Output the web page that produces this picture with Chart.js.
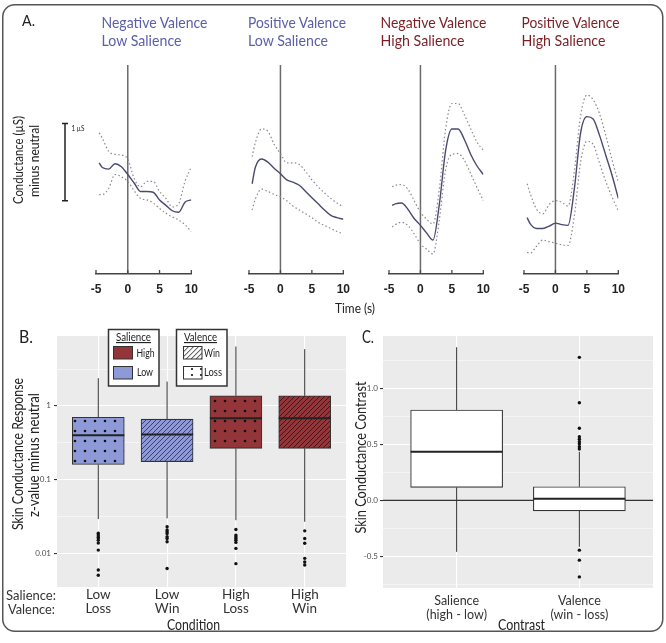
<!DOCTYPE html>
<html><head><meta charset="utf-8">
<script src="https://cdn.jsdelivr.net/npm/chart.js@4.4.1/dist/chart.umd.min.js"></script>
<style>
html,body{margin:0;padding:0;background:#fff;}
body{width:666px;height:643px;position:relative;overflow:hidden;font-family:Lato,"Open Sans",sans-serif;color:#222;}
canvas{position:absolute;}
#ov{position:absolute;left:0;top:0;pointer-events:none;}
#ov text{font-family:Lato,"Open Sans",sans-serif;}
</style></head><body>
<div id="root"></div>
<script>
// ---------------- Panel A data (µS relative) ----------------
const timePoints = [-4.5,-4,-3,-2,-1,0,1,2,3,4,5,6,7,8,9,10];
const xTicksA = [-5,0,5,10];
const panelTitles = [["Negative Valence","Low Salience"],["Positive Valence","Low Salience"],["Negative Valence","High Salience"],["Positive Valence","High Salience"]];
const negLowMean  = [1.44,1.38,1.36,1.43,1.39,1.29,1.18,1.07,1.07,1.06,0.96,0.89,0.82,0.80,0.93,0.96];
const negLowUpper = [1.83,1.76,1.59,1.55,1.54,1.49,1.24,1.13,1.20,1.20,1.07,0.98,0.87,0.91,1.20,1.39];
const negLowLower = [1.03,1.03,1.11,1.29,1.26,1.20,1.08,0.98,0.96,0.92,0.85,0.79,0.74,0.70,0.64,0.55];
const posLowMean  = [1.17,1.38,1.49,1.45,1.37,1.30,1.22,1.19,1.15,1.07,0.99,0.91,0.83,0.76,0.73,0.71];
const posLowUpper = [1.52,1.70,1.88,1.85,1.68,1.56,1.44,1.44,1.42,1.33,1.22,1.13,1.05,0.98,0.92,0.87];
const posLowLower = [0.83,0.97,1.10,1.07,1.03,1.00,0.95,0.88,0.83,0.78,0.73,0.67,0.63,0.59,0.55,0.52];
const negHighMean  = [0.89,0.91,0.92,0.84,0.72,0.63,0.53,0.44,0.90,1.60,1.88,1.88,1.74,1.55,1.40,1.29];
const negHighUpper = [1.13,1.15,1.16,1.10,0.95,0.80,0.71,0.65,1.10,1.88,2.21,2.21,2.06,1.88,1.71,1.60];
const negHighLower = [0.61,0.64,0.67,0.63,0.52,0.39,0.32,0.26,0.70,1.35,1.55,1.56,1.47,1.30,1.12,0.95];
const posHighMean  = [0.73,0.65,0.59,0.59,0.62,0.66,0.64,0.63,1.10,1.83,2.04,2.01,1.80,1.54,1.28,0.98];
const posHighUpper = [1.17,1.04,0.84,0.78,0.90,0.95,0.93,0.88,1.33,2.05,2.32,2.26,2.08,1.80,1.48,1.19];
const posHighLower = [0.28,0.27,0.36,0.44,0.42,0.40,0.38,0.37,0.75,1.45,1.72,1.68,1.44,1.20,1.00,0.82];
const zeroLineTop = 2.71;       // height of the stimulus-onset line
const scaleBarStart = 0.95;     // 1 µS reference bar
const scaleBarLength = 1;

// ---------------- Panel B data ----------------
const salienceLevels = ["Low","Low","High","High"];
const valenceLevels  = ["Loss","Win","Loss","Win"];
const bQ1  = [0.16,0.175,0.265,0.265];
const bMed = [0.40,0.41,0.68,0.68];
const bQ3  = [0.70,0.66,1.37,1.37];
const bLo  = [0.029,0.0297,0.028,0.0267];
const bHi  = [2.38,2.14,6.4,5.9];
const bOutliers = [
  [0.0187,0.0176,0.0166,0.0161,0.015,0.0137,0.011,0.0059,0.005],
  [0.0228,0.0206,0.0195,0.0185,0.0167,0.0158,0.0143,0.0062],
  [0.021,0.0176,0.0167,0.0158,0.015,0.014,0.0116,0.0072],
  [0.0201,0.0158,0.0136,0.0085,0.0076,0.0069]
];
const bYTicks = [0.01,0.1,1];
const bYTickLabels = ["0.01","0.1","1"];
const bYMinor = [0.0316,0.316,3.16];

// ---------------- Panel C data ----------------
const contrastNames = ["Salience","Valence"];
const contrastSubs  = ["(high - low)","(win - loss)"];
const cQ1  = [0.116,-0.093];
const cMed = [0.433,0.014];
const cQ3  = [0.805,0.121];
const cLo  = [-0.458,-0.413];
const cHi  = [1.364,0.433];
const cOutliers = [[],[1.274,0.87,0.642,0.567,0.544,0.522,0.502,0.478,0.457,-0.443,-0.532,-0.681]];
const cYTicks = [-0.5,0,0.5,1.0];
const cYTickLabels = ["-0.5","0.0","0.5","1.0"];
const cYMinor = [-0.75,-0.25,0.25,0.75,1.25];
const cRefLine = [0];

// ---------------- helpers ----------------
const root = document.getElementById('root');
function mkCanvas(l,t,w,h){const c=document.createElement('canvas');c.width=w;c.height=h;c.style.left=l+'px';c.style.top=t+'px';c.style.width=w+'px';c.style.height=h+'px';root.appendChild(c);return c;}
const near=(a,b)=>Math.abs(a-b)<=Math.abs(b)*1e-6+1e-9;
const esc=s=>s.replace(/&/g,'&amp;').replace(/</g,'&lt;');
const svg=[];
// text with its width fixed to the width measured on the reference
function T(str,x,y,size,o){o=o||{};
  let a=`x="${x}" y="${y}" font-size="${size}" fill="${o.color||'#222'}" text-anchor="${o.anchor||'start'}"`;
  if(o.w) a+=` textLength="${o.w}" lengthAdjust="spacingAndGlyphs"`;
  if(o.rot) a+=` transform="rotate(-90 ${x} ${y})"`;
  if(o.deco) a+=` text-decoration="underline"`;
  svg.push(`<text ${a}>${esc(str)}</text>`);}

Chart.defaults.animation=false;
Chart.defaults.events=[];
Chart.defaults.plugins.legend.display=false;
Chart.defaults.plugins.tooltip.enabled=false;

function build(){
// ---------------- Panel A ----------------
const seriesA = [[negLowMean,negLowUpper,negLowLower],[posLowMean,posLowUpper,posLowLower],[negHighMean,negHighUpper,negHighLower],[posHighMean,posHighUpper,posHighLower]];
const chartLeftA = [96,249,389,524];
const chartWidthA = [96,95,95,95];
const titleLeftA = [101.5,248,380.5,521.5];
const lowColor='#5a5fa8', highColor='#7b1f24';
const tickUp = {id:'tickUp', afterDraw(chart){const {ctx,scales:{x},chartArea:a}=chart;ctx.save();ctx.strokeStyle='#444';ctx.lineWidth=1.3;
  xTicksA.forEach(v=>{const px=x.getPixelForValue(v);ctx.beginPath();ctx.moveTo(px,a.bottom);ctx.lineTo(px,a.bottom-4);ctx.stroke();});ctx.restore();}};
const scaleBar = {id:'scaleBar', afterDraw(chart){const {ctx,scales:{y},chartArea:a}=chart;const px=a.left-31;
  const y0=y.getPixelForValue(scaleBarStart), y1=y.getPixelForValue(scaleBarStart+scaleBarLength);
  ctx.save();ctx.strokeStyle='#222';ctx.lineWidth=1.5;ctx.beginPath();ctx.moveTo(px,y0);ctx.lineTo(px,y1);
  ctx.moveTo(px-3,y0);ctx.lineTo(px+3,y0);ctx.moveTo(px-3,y1);ctx.lineTo(px+3,y1);ctx.stroke();ctx.restore();}};

seriesA.forEach((s,i)=>{
  const padL = i===0?40:14, padR=14;
  const c = mkCanvas(chartLeftA[i]-padL,46,chartWidthA[i]+padL+padR,256);
  const pts = arr=>timePoints.map((t,k)=>({x:t,y:arr[k]}));
  const dot = {borderColor:'#8f8790',borderWidth:1.2,borderDash:[1.5,2.4],pointRadius:0,cubicInterpolationMode:'monotone',fill:false};
  new Chart(c,{type:'line',
    data:{datasets:[
      Object.assign({data:pts(s[1])},dot),
      Object.assign({data:pts(s[2])},dot),
      {data:pts(s[0]),borderColor:'#4a4a70',borderWidth:1.4,pointRadius:0,cubicInterpolationMode:'monotone',fill:false},
      {data:[{x:0,y:0},{x:0,y:zeroLineTop}],borderColor:'#6a6a6a',borderWidth:1.5,pointRadius:0,tension:0}
    ]},
    options:{responsive:false,maintainAspectRatio:false,
      layout:{padding:{left:padL,right:padR,top:12,bottom:0}},
      scales:{
        x:{type:'linear',min:-5,max:10,afterBuildTicks:sc=>{sc.ticks=xTicksA.map(v=>({value:v}));},
           grid:{display:false,drawTicks:false},border:{display:true,color:'#444',width:1.5},
           ticks:{autoSkip:false,maxRotation:0,padding:8,color:'#222',font:{family:'Arial',weight:'bold',size:12},callback:v=>String(v)},
           afterFit:sc=>{sc.height=28;}},
        y:{type:'linear',display:false,min:0,max:2.8}
      }},
    plugins: i===0?[tickUp,scaleBar]:[tickUp]
  });
  const col = i<2?lowColor:highColor;
  const w1 = panelTitles[i][0].startsWith('Neg')?106:98, w2 = panelTitles[i][1].startsWith('Low')?80:84;
  T(panelTitles[i][0],titleLeftA[i],28,15,{color:col,w:w1});
  T(panelTitles[i][1],titleLeftA[i],46,15,{color:col,w:w2});
});
T('A.',22,25.5,15,{w:13});
T('1 µS',71.5,130.5,8,{w:13});
T('Conductance (µS)',23,160,14,{rot:true,anchor:'middle',w:88});
T('minus neutral',38.5,161,14,{rot:true,anchor:'middle',w:72});
T('Time (s)',335,313,14,{w:40});

// ---------------- patterns ----------------
function dotPattern(fill){const p=document.createElement('canvas');p.width=10;p.height=10;const g=p.getContext('2d');
  g.fillStyle=fill;g.fillRect(0,0,10,10);g.fillStyle='#111';g.beginPath();g.arc(5,5,1.3,0,Math.PI*2);g.fill();
  return g.createPattern(p,'repeat');}
function hatchPattern(fill,line){const n=5;const p=document.createElement('canvas');p.width=n;p.height=n;const g=p.getContext('2d');
  g.fillStyle=fill;g.fillRect(0,0,n,n);g.strokeStyle=line;g.lineWidth=1;g.beginPath();
  g.moveTo(0,n);g.lineTo(n,0);g.moveTo(-1,1);g.lineTo(1,-1);g.moveTo(n-1,n+1);g.lineTo(n+1,n-1);g.stroke();
  return g.createPattern(p,'repeat');}
const blueFill='#8e9ad8', redFill='#943539';
const bFills=[dotPattern(blueFill),hatchPattern(blueFill,'rgba(30,35,80,0.75)'),dotPattern(redFill),hatchPattern(redFill,'rgba(40,5,5,0.7)')];

const panelBg = {id:'panelBg', beforeDraw(chart){const {ctx,chartArea:a}=chart;ctx.save();ctx.fillStyle='#ebebeb';ctx.fillRect(a.left,a.top,a.right-a.left,a.bottom-a.top);ctx.restore();}};
function boxPlugin(q1,q3,lo,hi,med,halfW,refLines){
  return {id:'boxExtras',
    beforeDatasetsDraw(chart){const {ctx,scales:{x,y},chartArea:a}=chart;ctx.save();
      if(refLines){ctx.strokeStyle='#333';ctx.lineWidth=1.2;refLines.forEach(v=>{const py=y.getPixelForValue(v);ctx.beginPath();ctx.moveTo(a.left,py);ctx.lineTo(a.right,py);ctx.stroke();});}
      ctx.strokeStyle='#333';ctx.lineWidth=1;
      q1.forEach((_,i)=>{const px=x.getPixelForValue(i+1);ctx.beginPath();
        ctx.moveTo(px,y.getPixelForValue(hi[i]));ctx.lineTo(px,y.getPixelForValue(q3[i]));
        ctx.moveTo(px,y.getPixelForValue(q1[i]));ctx.lineTo(px,y.getPixelForValue(lo[i]));ctx.stroke();});
      ctx.restore();},
    afterDatasetsDraw(chart){const {ctx,scales:{x,y}}=chart;ctx.save();ctx.strokeStyle='#222';ctx.lineWidth=2;
      med.forEach((m,i)=>{const px=x.getPixelForValue(i+1),py=y.getPixelForValue(m);ctx.beginPath();ctx.moveTo(px-halfW,py);ctx.lineTo(px+halfW,py);ctx.stroke();});
      ctx.restore();}
  };
}

// ---------------- Panel B ----------------
(function(){
  const c=mkCanvas(0,326,352,300);
  const outPts=[];bOutliers.forEach((arr,i)=>arr.forEach(v=>outPts.push({x:i+1,y:v})));
  const allTicks=[...bYTicks,...bYMinor].sort((a,b)=>a-b);
  const isMajor=v=>bYTicks.some(m=>near(v,m));
  new Chart(c,{type:'bar',
    data:{datasets:[
      {type:'line',data:outPts,showLine:false,pointRadius:1.7,pointBackgroundColor:'#111',pointBorderWidth:0,order:0},
      {type:'bar',data:salienceLevels.map((s,i)=>({x:i+1,y:[bQ1[i],bQ3[i]]})),backgroundColor:bFills,borderColor:'#333',borderWidth:1.1,borderSkipped:false,barThickness:52,order:1}
    ]},
    options:{responsive:false,maintainAspectRatio:false,
      layout:{padding:{left:0,right:6,top:10,bottom:0}},
      scales:{
        x:{type:'linear',offset:false,min:0.4,max:4.6,afterBuildTicks:sc=>{sc.ticks=salienceLevels.map((s,i)=>({value:i+1}));},
           grid:{offset:false,color:'#fff',lineWidth:1.1,drawTicks:false},border:{display:false},
           ticks:{autoSkip:false,maxRotation:0,padding:1,color:'#333',font:{family:'Lato',size:13.5,lineHeight:1.04},callback:v=>[salienceLevels[v-1],valenceLevels[v-1]]},
           afterFit:sc=>{sc.height=39;}},
        y:{type:'logarithmic',min:0.00347,max:8.9,afterBuildTicks:sc=>{sc.ticks=allTicks.map(v=>({value:v}));},
           grid:{color:'#fff',lineWidth:ctx=>isMajor(ctx.tick.value)?1.1:0.5,tickLength:3,tickColor:ctx=>isMajor(ctx.tick.value)?'#333':'rgba(0,0,0,0)'},
           border:{display:false},
           ticks:{autoSkip:false,padding:3,color:'#4d4d4d',font:{family:'Lato',size:8},callback:v=>{const k=bYTicks.findIndex(m=>near(v,m));return k>=0?bYTickLabels[k]:'';}},
           afterFit:sc=>{sc.width=57;}}
      }},
    plugins:[panelBg,boxPlugin(bQ1,bQ3,bLo,bHi,bMed,26,null)]
  });
})();
T('B.',19,343,17.5,{w:14});
T('Skin Conductance Response',23,454,15,{rot:true,anchor:'middle',w:152});
T('z-value minus neutral',39,455,15,{rot:true,anchor:'middle',w:124});
T('Salience:',6,600,13.5,{color:'#333',w:50});
T('Valence:',8,613.5,13.5,{color:'#333',w:47});
T('Condition',167,630,14.5,{w:53});

// legends (drawn on the overlay)
svg.push(`<rect x="108.5" y="329.5" width="50.5" height="56.5" fill="#fff" stroke="#333" stroke-width="1.5"/>`);
svg.push(`<rect x="176.5" y="329.5" width="50.5" height="56.5" fill="#fff" stroke="#333" stroke-width="1.5"/>`);
T('Salience',116,341,11.5,{w:35,deco:true});
T('Valence',184,341,11.5,{w:33,deco:true});
svg.push(`<rect x="113.5" y="346.5" width="19" height="12.5" fill="${redFill}" stroke="#333" stroke-width="1"/>`);
svg.push(`<rect x="113.5" y="366.5" width="19" height="12.5" fill="${blueFill}" stroke="#333" stroke-width="1"/>`);
svg.push(`<rect x="183.5" y="346.5" width="18.5" height="12.5" fill="url(#hatch)" stroke="#333" stroke-width="1"/>`);
svg.push(`<rect x="183.5" y="366.5" width="18.5" height="12.5" fill="url(#dots)" stroke="#333" stroke-width="1"/>`);
T('High',136.5,356.5,11.5,{w:18});
T('Low',137,376,11.5,{w:16});
T('Win',204,356.5,11.5,{w:16});
T('Loss',204,376,11.5,{w:18});

// ---------------- Panel C ----------------
(function(){
  const c=mkCanvas(350,326,310,302);
  const outPts=[];cOutliers.forEach((arr,i)=>arr.forEach(v=>outPts.push({x:i+1,y:v})));
  const allTicks=[...cYTicks,...cYMinor].sort((a,b)=>a-b);
  const isMajor=v=>cYTicks.some(m=>near(v,m));
  new Chart(c,{type:'bar',
    data:{datasets:[
      {type:'line',data:outPts,showLine:false,pointRadius:1.7,pointBackgroundColor:'#111',pointBorderWidth:0,order:0},
      {type:'bar',data:contrastNames.map((s,i)=>({x:i+1,y:[cQ1[i],cQ3[i]]})),backgroundColor:'#fff',borderColor:'#333',borderWidth:1.1,borderSkipped:false,barThickness:92,order:1}
    ]},
    options:{responsive:false,maintainAspectRatio:false,
      layout:{padding:{left:0,right:7,top:10,bottom:0}},
      scales:{
        x:{type:'linear',offset:false,min:0.4,max:2.6,afterBuildTicks:sc=>{sc.ticks=contrastNames.map((s,i)=>({value:i+1}));},
           grid:{offset:false,color:'#fff',lineWidth:1.1,drawTicks:false},border:{display:false},
           ticks:{autoSkip:false,maxRotation:0,padding:6,color:'#333',font:{family:'Lato',size:12.5,lineHeight:1.1},callback:v=>[contrastNames[v-1],contrastSubs[v-1]]},
           afterFit:sc=>{sc.height=40;}},
        y:{type:'linear',min:-0.78,max:1.464,afterBuildTicks:sc=>{sc.ticks=allTicks.map(v=>({value:v}));},
           grid:{color:'#fff',lineWidth:ctx=>isMajor(ctx.tick.value)?1.1:0.5,tickLength:3,tickColor:ctx=>isMajor(ctx.tick.value)?'#333':'rgba(0,0,0,0)'},
           border:{display:false},
           ticks:{autoSkip:false,padding:2,color:'#4d4d4d',font:{family:'Lato',size:8},callback:v=>{const k=cYTicks.findIndex(m=>near(v,m));return k>=0?cYTickLabels[k]:'';}},
           afterFit:sc=>{sc.width=33;}}
      }},
    plugins:[panelBg,boxPlugin(cQ1,cQ3,cLo,cHi,cMed,46,cRefLine)]
  });
})();
T('C.',362,343,17.5,{w:12});
T('Skin Conductance Contrast',366,457.5,15,{rot:true,anchor:'middle',w:152});
T('Contrast',498,630,14.5,{w:47});

// overlay with frame, legends and all free-standing labels
const defs=`<defs>
<pattern id="hatch" width="3.5" height="3.5" patternUnits="userSpaceOnUse" patternTransform="rotate(45)"><rect width="3.5" height="3.5" fill="#fff"/><line x1="0.5" y1="0" x2="0.5" y2="3.5" stroke="#555" stroke-width="0.9"/></pattern>
<pattern id="dots" width="9" height="6" patternUnits="userSpaceOnUse"><rect width="9" height="6" fill="#fff"/><circle cx="3" cy="3" r="1.1" fill="#111"/></pattern>
</defs>`;
const frame=`<rect x="2.75" y="4.75" width="660" height="626.5" rx="12" ry="12" fill="none" stroke="#555" stroke-width="1.5"/>`;
root.insertAdjacentHTML('beforeend',`<svg id="ov" width="666" height="643" viewBox="0 0 666 643" xmlns="http://www.w3.org/2000/svg">${defs}${frame}${svg.join('')}</svg>`);
}

let built=false;
function go(){if(built)return;built=true;build();}
Promise.all([document.fonts.load('15px Lato'),document.fonts.load('8px Lato'),document.fonts.load('bold 12px Arial')]).then(go,go);
setTimeout(go,1500);
</script>
</body></html>
